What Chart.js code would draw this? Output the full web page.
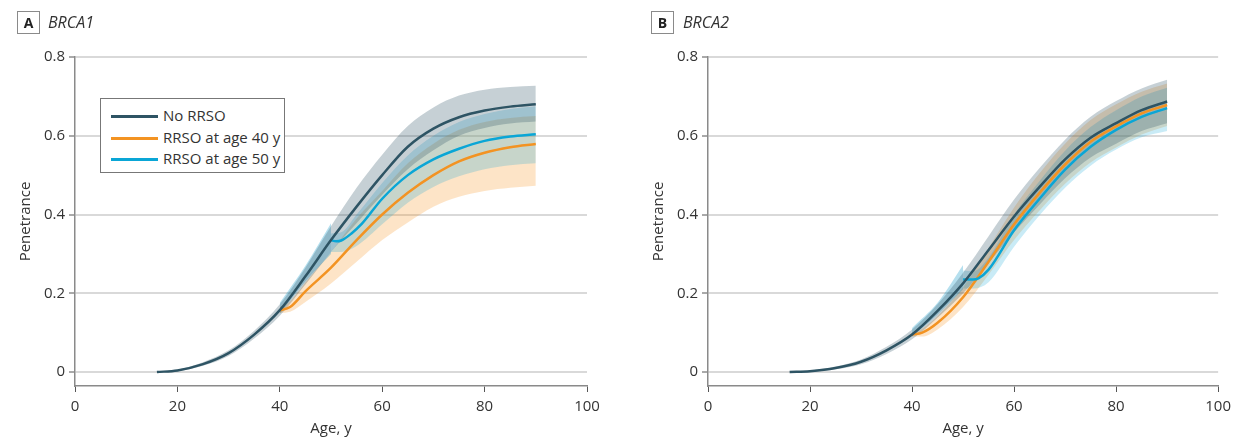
<!DOCTYPE html>
<html>
<head>
<meta charset="utf-8">
<script src="https://cdn.jsdelivr.net/npm/chart.js@4.4.1/dist/chart.umd.min.js"></script>
<style>
  body { margin: 0; background: #fff; width: 1237px; height: 438px; overflow: hidden; position: relative; color: #333; }
  .panel { position: absolute; top: 0; height: 438px; }
  #pa { left: 0; width: 618px; }
  #pb { left: 618px; width: 619px; }
  .tag { position: absolute; top: 11px; width: 21px; height: 21px; border: 1px solid #8a8a8a; font: bold 14px "Open Sans", sans-serif; text-align: center; line-height: 21px; color: #222; }
  .gene { position: absolute; top: 11px; font: italic 16px "Open Sans", sans-serif; line-height: 23px; color: #333; }
  .legend { position: absolute; left: 100px; top: 98px; width: 185px; height: 75px; border: 1px solid #777; background: #fff; box-sizing: border-box; font: 15px "Liberation Sans Narrow", "Open Sans", sans-serif; color: #333; }
  .legend div { position: absolute; left: 10px; height: 18px; line-height: 18px; }
  .legend span { display: inline-block; width: 47px; height: 3px; vertical-align: middle; margin-right: 5px; }
</style>
</head>
<body>
<div class="panel" id="pa"><canvas id="chartA" width="618" height="438"></canvas></div>
<div class="panel" id="pb"><canvas id="chartB" width="619" height="438"></canvas></div>
<div class="tag" style="left:17px">A</div><div class="gene" style="left:48px">BRCA1</div>
<div class="tag" style="left:651px">B</div><div class="gene" style="left:683px">BRCA2</div>
<div class="legend" id="legendA"></div>
<script>
// series labels and colours
const seriesNames = ['No RRSO', 'RRSO at age 40 y', 'RRSO at age 50 y'];
const darkColor = '#2e5464';
const orangeColor = '#f39322';
const blueColor = '#0aa6d6';

const yTicks = [0, 0.2, 0.4, 0.6, 0.8];

// ---- Panel A: BRCA1 ----
const ageFull = [16, 20, 25, 30, 35, 40, 45, 50, 55, 60, 65, 70, 75, 80, 85, 90];
const noRrsoA = [0, 0.004, 0.02, 0.048, 0.095, 0.157, 0.243, 0.335, 0.42, 0.5, 0.572, 0.618, 0.647, 0.664, 0.674, 0.68];
const noUpA   = [0.001, 0.006, 0.025, 0.055, 0.105, 0.172, 0.265, 0.37, 0.468, 0.552, 0.625, 0.672, 0.702, 0.717, 0.724, 0.727];
const noLoA   = [0, 0.002, 0.016, 0.041, 0.085, 0.143, 0.222, 0.305, 0.378, 0.45, 0.515, 0.563, 0.6, 0.62, 0.631, 0.636];

const age40 = [40, 42, 45, 50, 55, 60, 65, 70, 75, 80, 85, 90];
const rrso40A   = [0.157, 0.165, 0.205, 0.265, 0.335, 0.4, 0.455, 0.5, 0.535, 0.557, 0.571, 0.579];
const rrso40UpA = [0.165, 0.18, 0.228, 0.305, 0.39, 0.46, 0.53, 0.58, 0.615, 0.635, 0.645, 0.65];
const rrso40LoA = [0.15, 0.153, 0.178, 0.225, 0.28, 0.335, 0.38, 0.42, 0.445, 0.46, 0.468, 0.473];

const age50 = [50, 51, 52, 54, 56, 60, 65, 70, 75, 80, 85, 90];
const rrso50A = [0.335, 0.332, 0.334, 0.352, 0.376, 0.44, 0.5, 0.54, 0.567, 0.587, 0.598, 0.604];
// band of the age-50 series, before and after the surgery age
const age50Pre = [40, 45, 50];
const age50Post = [50, 52, 55, 60, 65, 70, 75, 80, 85, 90];
const rrso50PreUpA  = [0.176, 0.27, 0.378];
const rrso50PreLoA  = [0.148, 0.23, 0.30];
const rrso50PostUpA = [0.352, 0.355, 0.4, 0.48, 0.55, 0.6, 0.635, 0.655, 0.668, 0.675];
const rrso50PostLoA = [0.305, 0.305, 0.32, 0.375, 0.43, 0.47, 0.497, 0.515, 0.525, 0.53];

// ---- Panel B: BRCA2 ----
const noRrsoB = [0, 0.002, 0.01, 0.026, 0.055, 0.095, 0.155, 0.225, 0.31, 0.395, 0.47, 0.54, 0.595, 0.632, 0.665, 0.687];
const noUpB   = [0.001, 0.004, 0.014, 0.032, 0.064, 0.108, 0.172, 0.252, 0.345, 0.438, 0.518, 0.59, 0.648, 0.688, 0.72, 0.742];
const noLoB   = [0, 0.001, 0.007, 0.02, 0.046, 0.083, 0.138, 0.2, 0.277, 0.355, 0.425, 0.492, 0.545, 0.58, 0.612, 0.632];

const rrso40B   = [0.095, 0.1, 0.125, 0.19, 0.28, 0.375, 0.455, 0.527, 0.585, 0.624, 0.657, 0.678];
const rrso40UpB = [0.1, 0.11, 0.142, 0.215, 0.315, 0.418, 0.505, 0.58, 0.64, 0.68, 0.712, 0.733];
const rrso40LoB = [0.09, 0.09, 0.108, 0.165, 0.247, 0.335, 0.41, 0.478, 0.532, 0.57, 0.603, 0.625];

const age50B = [50, 52, 53, 55, 60, 65, 70, 75, 80, 85, 90];
const rrso50B = [0.235, 0.235, 0.238, 0.26, 0.36, 0.44, 0.514, 0.572, 0.615, 0.648, 0.67];
const rrso50PreUpB  = [0.112, 0.176, 0.272];
const rrso50PreLoB  = [0.09, 0.146, 0.21];
const rrso50PostUpB = [0.258, 0.256, 0.29, 0.4, 0.485, 0.562, 0.622, 0.665, 0.7, 0.722];
const rrso50PostLoB = [0.212, 0.212, 0.228, 0.318, 0.398, 0.468, 0.524, 0.565, 0.596, 0.612];

const FONT = '"Liberation Sans Narrow", "Open Sans", sans-serif';

function pts(ages, vals) {
  return ages.map((a, i) => ({ x: a, y: vals[i] }));
}

function lineSet(label, data, color) {
  return { label, data, borderColor: color, borderWidth: 2.5, pointRadius: 0, fill: false, cubicInterpolationMode: 'monotone' };
}
function bandSet(data, color, fill) {
  return { label: '', data, borderWidth: 0, borderColor: 'transparent', backgroundColor: color, pointRadius: 0, fill, cubicInterpolationMode: 'monotone' };
}

const darkBand = 'rgba(46,82,98,0.27)';
const blueBand = 'rgba(10,166,214,0.22)';
const bluePreBand = 'rgba(10,150,200,0.3)';
const orangeBand = 'rgba(246,146,30,0.25)';

function buildDatasets(p) {
  return [
    lineSet(seriesNames[0], pts(ageFull, p.no), darkColor),
    lineSet(seriesNames[2], pts(p.age50, p.r50), blueColor),
    lineSet(seriesNames[1], pts(age40, p.r40), orangeColor),
    bandSet(pts(ageFull, p.noUp), darkBand, '+1'),
    bandSet(pts(ageFull, p.noLo), 'transparent', false),
    bandSet(pts(age50Pre, p.r50PreUp), bluePreBand, '+1'),
    bandSet(pts(age50Pre, p.r50PreLo), 'transparent', false),
    bandSet(pts(age50Post, p.r50PostUp), blueBand, '+1'),
    bandSet(pts(age50Post, p.r50PostLo), 'transparent', false),
    bandSet(pts(age40, p.r40Up), orangeBand, '+1'),
    bandSet(pts(age40, p.r40Lo), 'transparent', false),
  ];
}

function makeChart(id, p, padLeft, padRight) {
  return new Chart(document.getElementById(id), {
    type: 'line',
    data: { datasets: buildDatasets(p) },
    options: {
      responsive: false,
      animation: false,
      layout: { padding: { left: padLeft, right: padRight, top: 57, bottom: 0 } },
      plugins: { legend: { display: false }, tooltip: { enabled: false } },
      scales: {
        x: {
          type: 'linear', min: 0, max: 100,
          ticks: { stepSize: 20, padding: 6, color: '#333', font: { family: FONT, size: 15 } },
          grid: { drawOnChartArea: false, drawTicks: true, tickLength: 6, tickColor: '#555', tickWidth: 1 },
          border: { color: '#8a8a8a', width: 1.5 },
          title: { display: true, text: 'Age, y', color: '#333', font: { family: FONT, size: 15 }, padding: { top: 0, bottom: 0 } },
          afterFit: (s) => { s.height = 52; }
        },
        y: {
          type: 'linear', min: -0.0355, max: 0.8,
          afterBuildTicks: (s) => { s.ticks = yTicks.map(v => ({ value: v })); },
          ticks: { padding: 4, color: '#333', font: { family: FONT, size: 15 }, callback: (v) => String(v) },
          grid: { color: '#d9d9d9', lineWidth: 2, tickLength: 6, tickColor: '#555', tickWidth: 1 },
          border: { color: '#8a8a8a', width: 1.5 },
          title: { display: true, text: 'Penetrance', color: '#333', font: { family: FONT, size: 15 }, padding: { top: 17, bottom: 0 } },
          afterFit: (s) => { s.width = 75; }
        }
      }
    }
  });
}

makeChart('chartA', {
  no: noRrsoA, noUp: noUpA, noLo: noLoA,
  age50: age50, r50: rrso50A,
  r50PreUp: rrso50PreUpA, r50PreLo: rrso50PreLoA, r50PostUp: rrso50PostUpA, r50PostLo: rrso50PostLoA,
  r40: rrso40A, r40Up: rrso40UpA, r40Lo: rrso40LoA
}, 0, 31);

makeChart('chartB', {
  no: noRrsoB, noUp: noUpB, noLo: noLoB,
  age50: age50B, r50: rrso50B,
  r50PreUp: rrso50PreUpB, r50PreLo: rrso50PreLoB, r50PostUp: rrso50PostUpB, r50PostLo: rrso50PostLoB,
  r40: rrso40B, r40Up: rrso40UpB, r40Lo: rrso40LoB
}, 15, 16);

// html legend for panel A
const legendItems = [[seriesNames[0], darkColor], [seriesNames[1], orangeColor], [seriesNames[2], blueColor]];
const lg = document.getElementById('legendA');
legendItems.forEach(([name, color], i) => {
  const row = document.createElement('div');
  row.style.top = (7 + i * 21.5) + 'px';
  row.innerHTML = '<span style="background:' + color + '"></span>' + name;
  lg.appendChild(row);
});
</script>
</body>
</html>
